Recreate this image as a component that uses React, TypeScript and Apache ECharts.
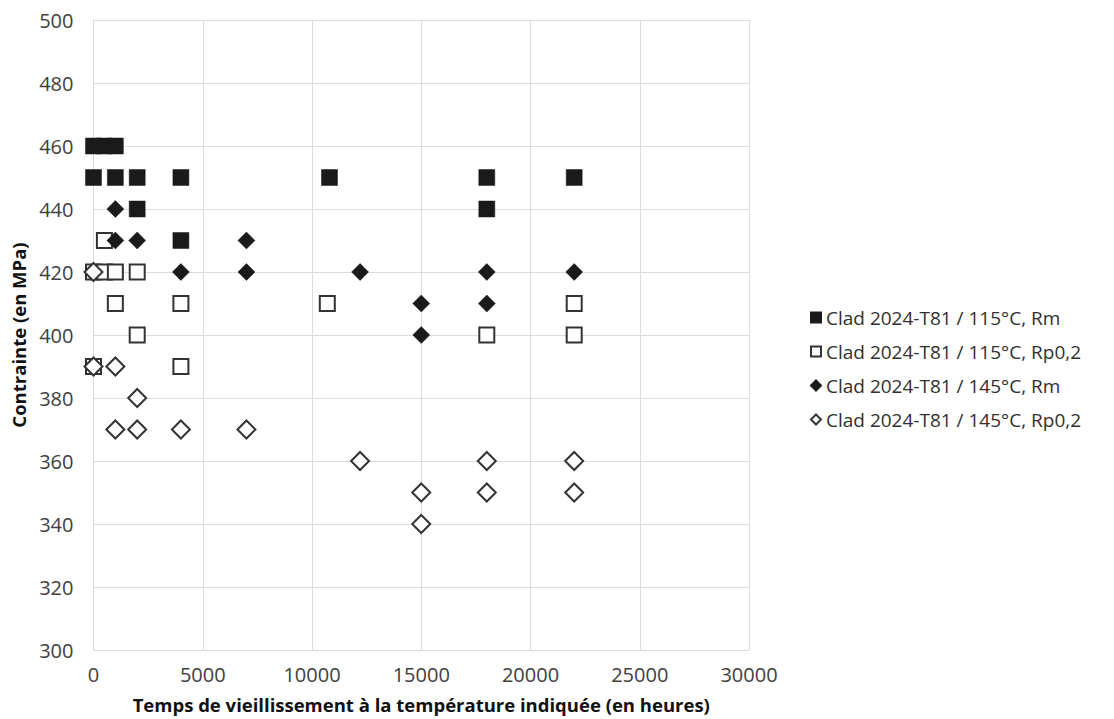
import React, { useEffect, useRef } from "react";
import * as echarts from "echarts";

const seriesNames = [
  "Clad 2024-T81 / 115°C, Rm",
  "Clad 2024-T81 / 115°C, Rp0,2",
  "Clad 2024-T81 / 145°C, Rm",
  "Clad 2024-T81 / 145°C, Rp0,2",
];

const rm115: [number, number][] = [
  [0, 460], [500, 460], [1000, 460],
  [0, 450], [1000, 450], [2000, 450], [4000, 450],
  [2000, 440], [4000, 430],
  [10800, 450], [18000, 450], [18000, 440], [22000, 450],
];

const rp115: [number, number][] = [
  [500, 430], [0, 420], [500, 420], [1000, 420], [2000, 420],
  [1000, 410], [4000, 410], [2000, 400], [0, 390], [4000, 390],
  [10700, 410], [18000, 400], [22000, 410], [22000, 400],
];

const rm145: [number, number][] = [
  [1000, 440], [1000, 430], [2000, 430], [7000, 430],
  [4000, 420], [7000, 420], [12200, 420],
  [15000, 410], [15000, 400], [18000, 420], [18000, 410], [22000, 420],
];

const rp145: [number, number][] = [
  [0, 420], [0, 390], [1000, 390], [2000, 380],
  [1000, 370], [2000, 370], [4000, 370], [7000, 370],
  [12200, 360], [15000, 350], [15000, 340],
  [18000, 360], [18000, 350], [22000, 360], [22000, 350],
];

const xTicks = { min: 0, max: 30000, interval: 5000 };
const yTicks = { min: 300, max: 500, interval: 20 };

const FONT = "Open Sans";
const DARK = "#1a1a1a";
const OPEN = "#333333";

export default function App() {
  const ref = useRef<HTMLDivElement>(null);
  useEffect(() => {
    if (!ref.current) return;
    const chart = echarts.init(ref.current, null, { renderer: "svg" });
    const filled = (sym: string, size: number) => ({
      symbol: sym,
      symbolSize: size,
      itemStyle: { color: DARK, borderColor: DARK, borderWidth: 0.5, opacity: 1 },
    });
    const open = (sym: string, size: number) => ({
      symbol: sym,
      symbolSize: size,
      itemStyle: { color: "#ffffff", borderColor: OPEN, borderWidth: 2, opacity: 1 },
    });
    chart.setOption({
      animation: false,
      textStyle: { fontFamily: FONT },
      grid: { left: 93.5, right: 365, top: 20, bottom: 69, containLabel: false },
      xAxis: {
        type: "value",
        min: xTicks.min,
        max: xTicks.max,
        interval: xTicks.interval,
        name: "Temps de vieillissement à la température indiquée (en heures)",
        nameLocation: "middle",
        nameGap: 45,
        nameTextStyle: { fontFamily: FONT, fontSize: 18.5, fontWeight: "bold", color: "#111" },
        axisLine: { show: true, lineStyle: { color: "#d9d9d9" } },
        axisTick: { show: false },
        axisLabel: {
          fontFamily: FONT,
          fontSize: 20,
          color: "#404040",
          margin: 14,
          formatter: (v: number) => String(v),
        },
        splitLine: { show: true, lineStyle: { color: "#dcdcdc", width: 1 } },
      },
      yAxis: {
        type: "value",
        min: yTicks.min,
        max: yTicks.max,
        interval: yTicks.interval,
        name: "Contrainte (en MPa)",
        nameLocation: "middle",
        nameGap: 62,
        nameTextStyle: { fontFamily: FONT, fontSize: 18.5, fontWeight: "bold", color: "#111" },
        axisLine: { show: true, lineStyle: { color: "#d9d9d9" } },
        axisTick: { show: false },
        axisLabel: { fontFamily: FONT, fontSize: 20, color: "#404040", margin: 20 },
        splitLine: { show: true, lineStyle: { color: "#dcdcdc", width: 1 } },
      },
      legend: {
        orient: "vertical",
        left: 805,
        top: 303,
        itemWidth: 10,
        itemHeight: 10,
        itemGap: 15,
        textStyle: { fontFamily: FONT, fontSize: 19, color: "#303030" },
        data: [
          { name: seriesNames[0], icon: "rect" },
          { name: seriesNames[1], icon: "rect" },
          { name: seriesNames[2], icon: "diamond" },
          { name: seriesNames[3], icon: "diamond" },
        ],
      },
      series: [
        { type: "scatter", name: seriesNames[0], data: rm115, ...filled("rect", 16) },
        { type: "scatter", name: seriesNames[1], data: rp115, ...open("rect", 15) },
        { type: "scatter", name: seriesNames[2], data: rm145, ...filled("diamond", 17) },
        { type: "scatter", name: seriesNames[3], data: rp145, ...open("diamond", 18) },
      ],
    });
    return () => chart.dispose();
  }, []);
  return (
    <div
      ref={ref}
      style={{ position: "fixed", left: 0, top: 0, width: 1114, height: 719, background: "#fff" }}
    />
  );
}
